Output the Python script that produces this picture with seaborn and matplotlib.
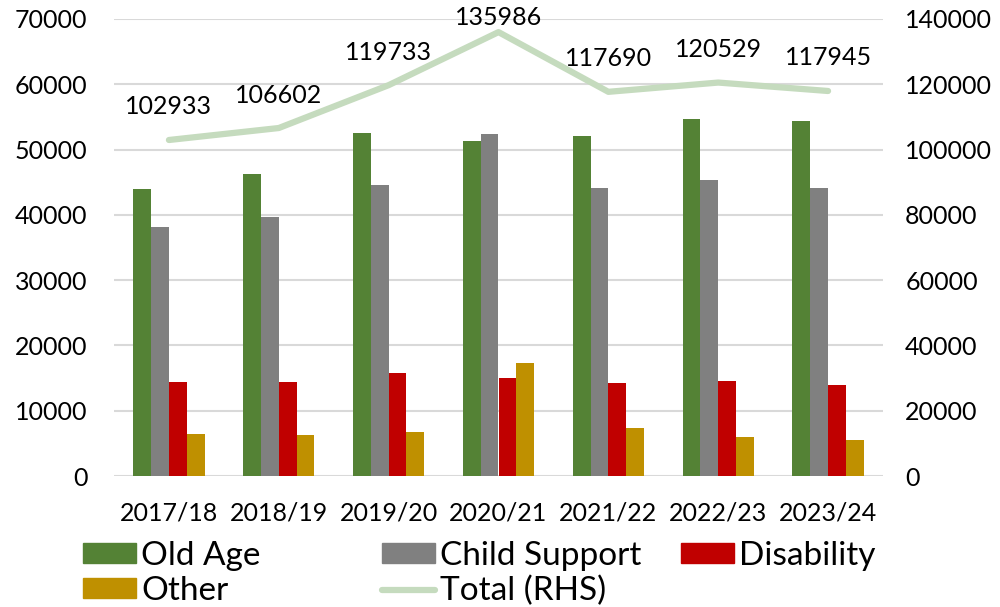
import numpy as np
import pandas as pd
import matplotlib
matplotlib.use("Agg")
import matplotlib.pyplot as plt
import seaborn as sns
from matplotlib.patches import Patch
from matplotlib.lines import Line2D

years = ["2017/18", "2018/19", "2019/20", "2020/21", "2021/22", "2022/23", "2023/24"]
old_age = [43900, 46200, 52500, 51250, 52100, 54700, 54400]
child_support = [38200, 39650, 44550, 52350, 44150, 45350, 44100]
disability = [14350, 14400, 15850, 15050, 14200, 14550, 13950]
other = [6450, 6300, 6800, 17350, 7300, 6000, 5500]
total = [102933, 106602, 119733, 135986, 117690, 120529, 117945]

series_names = ["Old Age", "Child Support", "Disability", "Other"]
colors = ["#548235", "#808080", "#C00000", "#BF9000"]
line_color = "#C5DBBE"

sns.set_theme(style="white")
plt.rcParams["font.family"] = ["Lato", "DejaVu Sans"]
plt.rcParams["text.color"] = "black"

df = pd.DataFrame({
    "year": years * 4,
    "series": sum([[n] * len(years) for n in series_names], []),
    "value": old_age + child_support + disability + other,
})

fig = plt.figure(figsize=(10, 6.07), dpi=100)
ax = fig.add_axes([0.114, 0.2158, 0.769, 0.7529])

sns.barplot(data=df, x="year", y="value", hue="series", palette=colors,
            hue_order=series_names, width=0.65, ax=ax, edgecolor="none",
            legend=False, saturation=1)

ax.set_ylim(0, 70000)
ax.set_yticks(np.arange(0, 70001, 10000))
ax.set_xlim(-0.5, len(years) - 0.5)
ax.grid(axis="y", color="#D9D9D9", linewidth=1.5)
ax.set_axisbelow(True)
for s in ax.spines.values():
    s.set_visible(False)
ax.set_xlabel("")
ax.set_ylabel("")
ax.tick_params(axis="both", length=0, labelsize=18, colors="black")
ax.tick_params(axis="y", pad=19)
ax.tick_params(axis="x", pad=18)

ax2 = ax.twinx()
idx = np.arange(len(years))
sns.lineplot(x=idx, y=total, ax=ax2, color=line_color, linewidth=4.5)
ax2.set_ylim(0, 140000)
ax2.set_yticks(np.arange(0, 140001, 20000))
for s in ax2.spines.values():
    s.set_visible(False)
ax2.tick_params(axis="y", length=0, labelsize=18, colors="black", pad=16)
ax2.set_ylabel("")

renderer = fig.canvas.get_renderer()
H = fig.bbox.height
for i, t in zip(idx, total):
    ann = ax2.annotate(f"{t}", (i, t), xytext=(0, 33), textcoords="offset pixels",
                       ha="center", va="center", fontsize=18, color="black")
    bb = ann.get_window_extent(renderer)
    if bb.y1 > H - 6:
        ann.set_position((0, 33 - (bb.y1 - (H - 6))))

columns = [
    ([Patch(color=colors[0]), Patch(color=colors[3])], ["Old Age", "Other"], 83),
    ([Patch(color=colors[1]), Line2D([0], [0], color=line_color, lw=4.5)],
     ["Child Support", "Total (RHS)"], 382),
    ([Patch(color=colors[2])], ["Disability"], 681),
]
for hs, ls, xpx in columns:
    fig.legend(hs, ls, loc="upper left", bbox_to_anchor=(xpx / 1000, 1 - 541 / 607),
               frameon=False, fontsize=24, handlelength=1.6, handleheight=0.55,
               handletextpad=0.15, labelspacing=0.15, borderpad=0, borderaxespad=0)

fig.savefig("out.png", dpi=100)
